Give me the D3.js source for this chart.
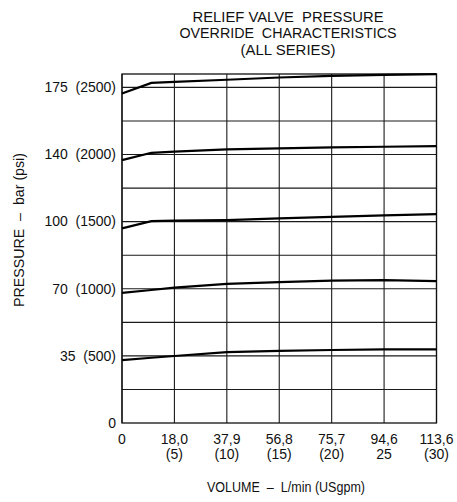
<!DOCTYPE html>
<html lang="en">
<head>
    <meta charset="UTF-8">
    <title>Relief valve pressure override</title>
    <script src="https://d3js.org/d3.v7.min.js"></script>
    <style>
        body { margin: 0; background: #fff; }
        svg text { font-family: "Liberation Sans", Arial, Helvetica, sans-serif; fill: #111; white-space: pre; }
    </style>
</head>
<body>
<div id="chart"></div>
<script>
    // x in USgpm, y in psi
    var xTicks = [0, 5, 10, 15, 20, 25, 30];
    var xLabelsLpm = ["0", "18,0", "37,9", "56,8", "75,7", "94,6", "113,6"];
    var xLabelsGpm = ["", "(5)", "(10)", "(15)", "(20)", "25", "(30)"];

    var yTicks = [0, 500, 1000, 1500, 2000, 2500];
    var yLabels = ["0", "35  (500)", "70  (1000)", "100  (1500)", "140  (2000)", "175  (2500)"];
    var yGrid = [250, 500, 750, 1000, 1250, 1500, 1750, 2000, 2250, 2500];

    var curveX = [0, 2.8, 5, 10, 15, 20, 25, 30];
    var curve2500 = [2455, 2534, 2542, 2557, 2574, 2586, 2593, 2599];
    var curve2000 = [1958, 2013, 2022, 2038, 2046, 2053, 2058, 2063];
    var curve1500 = [1450, 1504, 1508, 1512, 1524, 1536, 1547, 1556];
    var curve1000 = [970, 991, 1008, 1036, 1050, 1060, 1064, 1057];
    var curve500  = [469, 486, 499, 528, 538, 544, 549, 549];
    var curves = [curve2500, curve2000, curve1500, curve1000, curve500];

    var titleLines = ["RELIEF VALVE  PRESSURE", "OVERRIDE  CHARACTERISTICS", "(ALL SERIES)"];
    var titleWidths = [191, 217, 95];

    var W = 457, H = 502;
    var m = { left: 122, right: 436.5, top: 74, bottom: 423 };

    var svg = d3.select("#chart").append("svg")
        .attr("width", W)
        .attr("height", H);

    var x = d3.scaleLinear().domain([0, 30]).range([m.left, m.right]);
    var y = d3.scaleLinear().domain([0, 2600]).range([m.bottom, m.top]);

    // grid
    svg.append("g").selectAll("line")
        .data(xTicks)
        .join("line")
        .attr("x1", d => x(d)).attr("x2", d => x(d))
        .attr("y1", m.top).attr("y2", m.bottom)
        .attr("stroke", "#1a1a1a").attr("stroke-width", 1.1);

    svg.append("g").selectAll("line")
        .data(yGrid)
        .join("line")
        .attr("x1", m.left).attr("x2", m.right)
        .attr("y1", d => y(d)).attr("y2", d => y(d))
        .attr("stroke", "#1a1a1a").attr("stroke-width", 1.1);

    svg.append("rect")
        .attr("x", m.left).attr("y", m.top)
        .attr("width", m.right - m.left).attr("height", m.bottom - m.top)
        .attr("fill", "none").attr("stroke", "#111").attr("stroke-width", 1.3);

    // curves
    var line = d3.line()
        .x((d, i) => x(curveX[i]))
        .y(d => y(d));

    svg.append("g").selectAll("path")
        .data(curves)
        .join("path")
        .attr("d", d => line(d))
        .attr("fill", "none")
        .attr("stroke", "#000")
        .attr("stroke-width", 2.2);

    // y labels
    svg.append("g").selectAll("text")
        .data(yTicks)
        .join("text")
        .attr("x", m.left - 6)
        .attr("y", d => y(d) + 4.8)
        .attr("text-anchor", "end")
        .attr("font-size", 14)
        .text((d, i) => yLabels[i]);

    // x labels, two rows
    var xl = svg.append("g");
    xl.selectAll("text.l")
        .data(xTicks)
        .join("text")
        .attr("class", "l")
        .attr("x", d => x(d))
        .attr("y", 443.5)
        .attr("text-anchor", "middle")
        .attr("font-size", 14)
        .text((d, i) => xLabelsLpm[i]);
    xl.selectAll("text.g")
        .data(xTicks)
        .join("text")
        .attr("class", "g")
        .attr("x", d => x(d))
        .attr("y", 459)
        .attr("text-anchor", "middle")
        .attr("font-size", 14)
        .text((d, i) => xLabelsGpm[i]);

    // axis titles
    svg.append("text")
        .attr("x", 286)
        .attr("y", 491.7)
        .attr("text-anchor", "middle")
        .attr("font-size", 14)
        .attr("textLength", 158)
        .attr("lengthAdjust", "spacingAndGlyphs")
        .text("VOLUME  –  L/min (USgpm)");

    svg.append("text")
        .attr("transform", "translate(24,230) rotate(-90)")
        .attr("text-anchor", "middle")
        .attr("font-size", 14)
        .attr("textLength", 154)
        .attr("lengthAdjust", "spacingAndGlyphs")
        .text("PRESSURE  –  bar (psi)");

    // title
    svg.append("g").selectAll("text")
        .data(titleLines)
        .join("text")
        .attr("x", 288)
        .attr("y", (d, i) => 21.7 + i * 16.7)
        .attr("text-anchor", "middle")
        .attr("font-size", 14)
        .attr("textLength", (d, i) => titleWidths[i])
        .attr("lengthAdjust", "spacingAndGlyphs")
        .text(d => d);
</script>
</body>
</html>
